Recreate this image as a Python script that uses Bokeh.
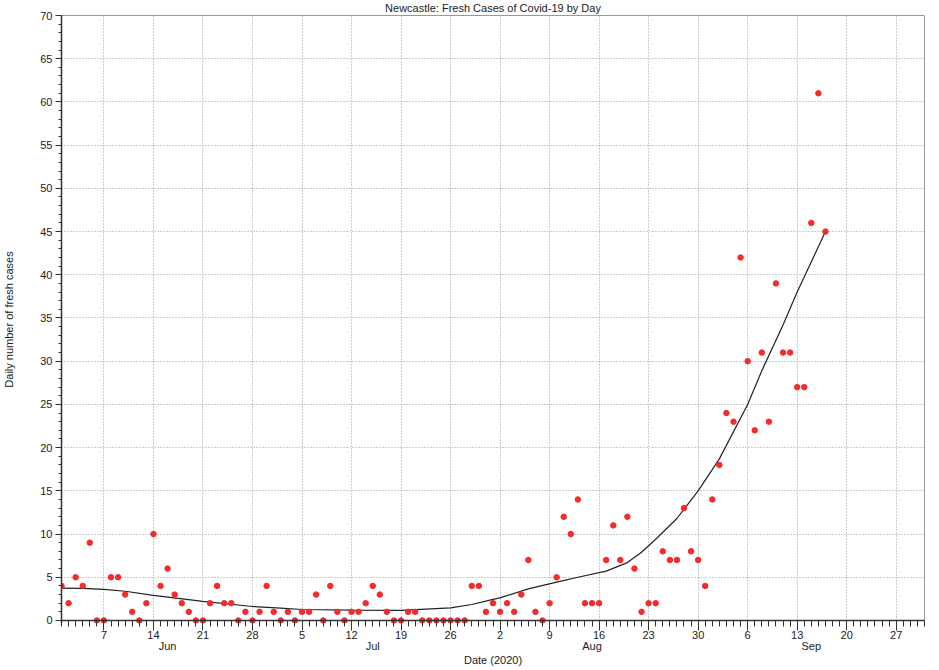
import pandas as pd
from bokeh.plotting import figure
from bokeh.models import FixedTicker, DatetimeAxis, Range1d, ColumnDataSource, Span
from bokeh.embed import file_html
from bokeh.resources import INLINE

# ---- data ----
first_day = "2020-06-01"
cases_jun = [4, 2, 5, 4, 9, 0, 0, 5, 5, 3, 1, 0, 2, 10, 4, 6, 3, 2, 1, 0,
             0, 2, 4, 2, 2, 0, 1, 0, 1, 4]
cases_jul = [1, 0, 1, 0, 1, 1, 3, 0, 4, 1, 0, 1, 1, 2, 4, 3, 1, 0, 0, 1,
             1, 0, 0, 0, 0, 0, 0, 0, 4, 4, 1]
cases_aug = [2, 1, 2, 1, 3, 7, 1, 0, 2, 5, 12, 10, 14, 2, 2, 2, 7, 11, 7, 12,
             6, 1, 2, 2, 8, 7, 7, 13, 8, 7, 4]
cases_sep = [14, 18, 24, 23, 42, 30, 22, 31, 23, 39, 31, 31, 27, 27, 46, 61, 45]

trend_dates = ["2020-06-01", "2020-06-04", "2020-06-07", "2020-06-10", "2020-06-14",
               "2020-06-21", "2020-06-28", "2020-07-02", "2020-07-05", "2020-07-12",
               "2020-07-19", "2020-07-26", "2020-07-29", "2020-08-01", "2020-08-02",
               "2020-08-06", "2020-08-10", "2020-08-13", "2020-08-17", "2020-08-20",
               "2020-08-22", "2020-08-24", "2020-08-27", "2020-08-30", "2020-09-02",
               "2020-09-06", "2020-09-08", "2020-09-11", "2020-09-13", "2020-09-17"]
trend_values = [3.75, 3.72, 3.6, 3.38, 2.9,
                2.2, 1.62, 1.43, 1.27, 1.2,
                1.16, 1.46, 1.85, 2.45, 2.62,
                3.66, 4.43, 5.0, 5.71, 6.7,
                7.9, 9.4, 11.8, 15.0, 18.7,
                25.0, 28.9, 34.2, 38.0, 45.0]

week_tick_dates = ["2020-06-07", "2020-06-14", "2020-06-21", "2020-06-28",
                   "2020-07-05", "2020-07-12", "2020-07-19", "2020-07-26",
                   "2020-08-02", "2020-08-09", "2020-08-16", "2020-08-23",
                   "2020-08-30", "2020-09-06", "2020-09-13", "2020-09-20",
                   "2020-09-27"]
week_tick_labels = ["7", "14", "21", "28", "5", "12", "19", "26", "2", "9",
                    "16", "23", "30", "6", "13", "20", "27"]
month_label_dates = ["2020-06-16", "2020-07-15", "2020-08-15", "2020-09-15"]
month_labels = ["Jun", "Jul", "Aug", "Sep"]
x_start, x_end = "2020-06-01", "2020-10-01"
y_ticks = [0, 5, 10, 15, 20, 25, 30, 35, 40, 45, 50, 55, 60, 65, 70]
y_top = 70

# ---- build ----
cases = cases_jun + cases_jul + cases_aug + cases_sep
dates = pd.date_range(first_day, periods=len(cases), freq="D")
src = ColumnDataSource(dict(date=dates, cases=cases))
tsrc = ColumnDataSource(dict(date=pd.to_datetime(trend_dates), val=trend_values))


def ms(d):
    return pd.Timestamp(d).value / 1e6


FONT = "Liberation Sans"
TXT = "#222222"
AX = "#333333"

p = figure(x_axis_type="datetime", output_backend="svg", toolbar_location=None,
           frame_width=863, frame_height=608,
           x_range=Range1d(ms(x_start), ms(x_end)), y_range=Range1d(-0.35, y_top),
           min_border_left=0, min_border_right=5, min_border_top=0, min_border_bottom=0,
           title="Newcastle: Fresh Cases of Covid-19 by Day")
p.margin = (-3, 0, -8, 0)
p.background_fill_color = "white"
p.border_fill_color = "white"
p.outline_line_color = None

p.title.align = "center"
p.title.text_font = FONT
p.title.text_font_size = "11px"
p.title.text_font_style = "normal"
p.title.text_color = TXT
p.title.standoff = 4
p.title.offset = 0

week_ms = [ms(d) for d in week_tick_dates]
day_ms = [ms(d) for d in pd.date_range(x_start, x_end, freq="D")]
xa = p.xaxis[0]
xa.ticker = FixedTicker(ticks=week_ms, minor_ticks=day_ms)
xa.major_label_overrides = {t: l for t, l in zip(week_ms, week_tick_labels)}
xa.axis_line_color = None
xa.major_tick_out = 7
xa.major_tick_in = 3
xa.minor_tick_out = 3
xa.minor_tick_in = 3
xa.major_label_standoff = 0
xa.major_tick_line_color = AX
xa.minor_tick_line_color = AX
xa.major_label_text_font = FONT
xa.major_label_text_font_size = "11px"
xa.major_label_text_color = TXT

ma = DatetimeAxis(ticker=FixedTicker(ticks=[ms(d) for d in month_label_dates], minor_ticks=[]))
ma.major_label_overrides = {ms(d): l for d, l in zip(month_label_dates, month_labels)}
ma.axis_line_color = None
ma.major_tick_line_color = None
ma.minor_tick_line_color = None
ma.major_tick_out = 0
ma.major_label_standoff = -2
ma.major_label_text_font = FONT
ma.major_label_text_font_size = "11px"
ma.major_label_text_color = TXT
ma.axis_label = "Date (2020)"
ma.axis_label_standoff = -1
ma.axis_label_text_font = FONT
ma.axis_label_text_font_size = "11px"
ma.axis_label_text_font_style = "normal"
ma.axis_label_text_color = TXT
p.add_layout(ma, "below")

ya = p.yaxis[0]
ya.ticker = FixedTicker(ticks=y_ticks, minor_ticks=list(range(0, 71)))
ya.major_tick_out = 6
ya.major_tick_in = 0
ya.minor_tick_out = 3
ya.minor_tick_in = 0
ya.major_label_standoff = 3
ya.axis_line_width = 1.5
ya.axis_line_color = AX
ya.major_tick_line_color = AX
ya.minor_tick_line_color = AX
ya.major_label_text_font = FONT
ya.major_label_text_font_size = "11px"
ya.major_label_text_color = TXT
ya.axis_label = "Daily number of fresh cases"
ya.axis_label_standoff = 22
ya.axis_label_text_font = FONT
ya.axis_label_text_font_size = "11px"
ya.axis_label_text_font_style = "normal"
ya.axis_label_text_color = TXT

for g in (p.xgrid[0], p.ygrid[0]):
    g.grid_line_color = "#9a9a9a"
    g.grid_line_dash = "1 2"
    g.grid_line_width = 1

# frame edges: baseline at zero, top and right border
p.add_layout(Span(location=0, dimension="width", line_color=AX, line_width=1.5))
p.add_layout(Span(location=y_top, dimension="width", line_color=AX, line_width=1))
p.add_layout(Span(location=ms(x_end), dimension="height", line_color=AX, line_width=1))

p.line("date", "val", source=tsrc, line_color="#222222", line_width=1.2)
p.scatter("date", "cases", source=src, size=5.5, color="#f52a2a")

open("out.html", "w").write(file_html(p, INLINE))
